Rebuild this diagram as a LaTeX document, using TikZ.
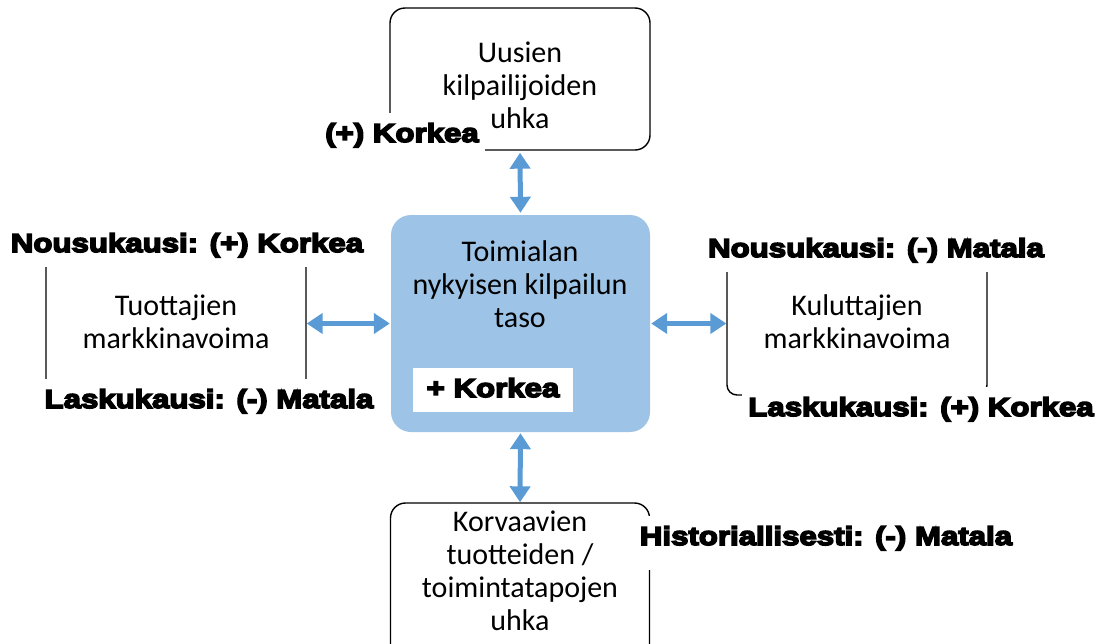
\documentclass[tikz,border=0pt]{standalone}
\usepackage{fontspec}
\setmainfont{Carlito}
\newfontfamily\lab{Liberation Sans}[FakeStretch=1.2,FakeBold=6]
\usetikzlibrary{arrows.meta}
\definecolor{corefill}{HTML}{9DC3E6}
\definecolor{arrowblue}{HTML}{5B9BD5}
\begin{document}
\begin{tikzpicture}[x=1pt,y=-1pt,
  frame/.style={draw=black, line width=1.4pt, rounded corners=#1, inner sep=0pt},
  frame/.default=15pt,
  body/.style={font=\fontsize{30pt}{33pt}\selectfont, align=center, anchor=base, inner sep=0pt},
  lbl/.style={font=\lab\bfseries\fontsize{26pt}{30pt}\selectfont, fill=white, text height=19pt,
              text depth=5pt, inner xsep=6pt, inner ysep=10pt, anchor=base},
  arr/.style={draw=arrowblue, line width=5pt, {Triangle[width=20pt,length=16pt]}-{Triangle[width=20pt,length=16pt]}}
]
\useasboundingbox (0,0) rectangle (1106,643);

% frames
\node[frame, minimum width=260pt, minimum height=142pt] (threat) at (520,79) {};
\node[frame, minimum width=259pt, minimum height=170pt] (subst) at (520,588) {};
\node[frame=12pt, minimum width=260pt, minimum height=160pt] (supp) at (176,320) {};
\node[frame=10pt, minimum width=260pt, minimum height=145pt] (cust) at (857,322.5) {};
\node[fill=corefill, rounded corners=20pt, minimum width=259pt, minimum height=217pt, inner sep=0pt] (core) at (520.5,323.5) {};

% frame texts (anchored at the baseline of their last line)
\node[body] (threatT) at (520,128) {Uusien\\kilpailijoiden\\uhka};
\node[body] (coreT) at (520,327) {Toimialan\\nykyisen kilpailun\\taso};
\node[body] (suppT) at (176,348) {Tuottajien\\markkinavoima};
\node[body] (custT) at (857,348) {Kuluttajien\\markkinavoima};
\node[body] (substT) at (520,630) {Korvaavien\\tuotteiden /\\toimintatapojen\\uhka};

% ratings
\node[lbl] (threatR) at (402,142) {(+) Korkea};
\node[lbl] (suppHi) at (187,252) {Nousukausi: (+) Korkea};
\node[lbl] (suppLo) at (209,408) {Laskukausi: (-) Matala};
\node[lbl] (custHi) at (876,257) {Nousukausi: (-) Matala};
\node[lbl] (custLo) at (921,416) {Laskukausi: (+) Korkea};
\node[lbl, text depth=15pt] (substR) at (826,545) {Historiallisesti: (-) Matala};
\node[lbl, minimum width=160pt, minimum height=44pt, inner ysep=0pt, anchor=center] (coreR) at (493,390) {+ Korkea};

% arrows
\draw[arr, shorten <=2pt, shorten >=2pt] (threat.south) -- (core.north);
\draw[arr, shorten >=1pt] (core.west -| supp.east) -- (core.west);
\draw[arr, shorten <=1pt] (core.east) -- (core.east -| cust.west);
\draw[arr, shorten <=1pt] (core.south) -- (subst.north);
\end{tikzpicture}
\end{document}
